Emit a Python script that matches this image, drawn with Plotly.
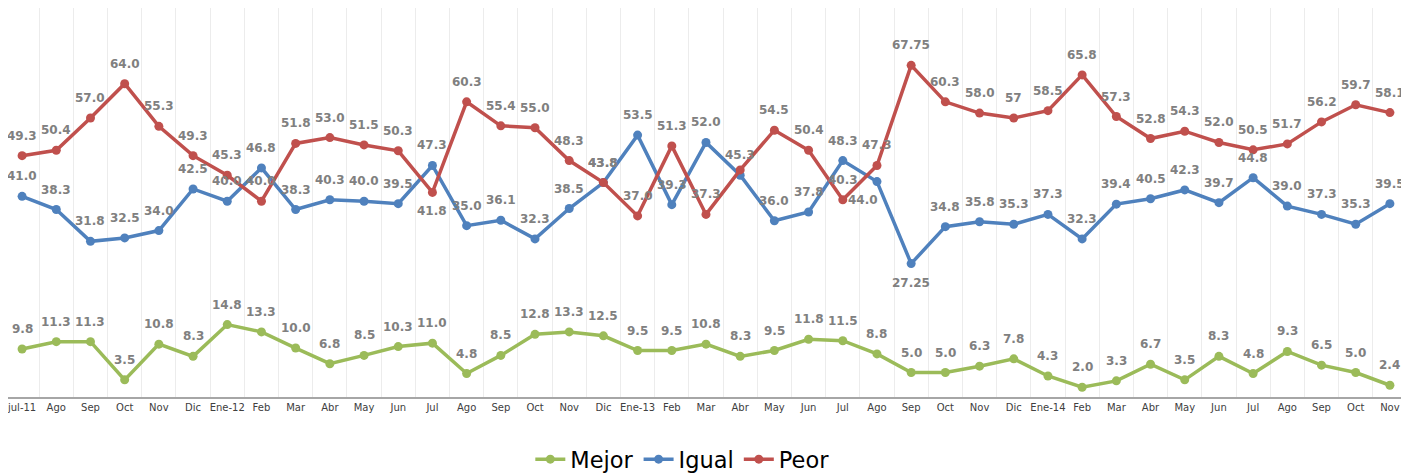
import plotly.graph_objects as go

months = ["jul-11", "Ago", "Sep", "Oct", "Nov", "Dic", "Ene-12", "Feb", "Mar", "Abr", "May", "Jun",
          "Jul", "Ago", "Sep", "Oct", "Nov", "Dic", "Ene-13", "Feb", "Mar", "Abr", "May", "Jun",
          "Jul", "Ago", "Sep", "Oct", "Nov", "Dic", "Ene-14", "Feb", "Mar", "Abr", "May", "Jun",
          "Jul", "Ago", "Sep", "Oct", "Nov"]

mejor = [9.8, 11.3, 11.3, 3.5, 10.8, 8.3, 14.8, 13.3, 10.0, 6.8, 8.5, 10.3, 11.0, 4.8, 8.5, 12.8,
         13.3, 12.5, 9.5, 9.5, 10.8, 8.3, 9.5, 11.8, 11.5, 8.8, 5.0, 5.0, 6.3, 7.8, 4.3, 2.0, 3.3,
         6.7, 3.5, 8.3, 4.8, 9.3, 6.5, 5.0, 2.4]
mejor_lbl = ["9.8", "11.3", "11.3", "3.5", "10.8", "8.3", "14.8", "13.3", "10.0", "6.8", "8.5", "10.3",
             "11.0", "4.8", "8.5", "12.8", "13.3", "12.5", "9.5", "9.5", "10.8", "8.3", "9.5", "11.8",
             "11.5", "8.8", "5.0", "5.0", "6.3", "7.8", "4.3", "2.0", "3.3", "6.7", "3.5", "8.3",
             "4.8", "9.3", "6.5", "5.0", "2.4"]

igual = [41.0, 38.3, 31.8, 32.5, 34.0, 42.5, 40.0, 46.8, 38.3, 40.3, 40.0, 39.5, 47.3, 35.0, 36.1,
         32.3, 38.5, 43.8, 53.5, 39.3, 52.0, 45.3, 36.0, 37.8, 48.3, 44.0, 27.25, 34.8, 35.8, 35.3,
         37.3, 32.3, 39.4, 40.5, 42.3, 39.7, 44.8, 39.0, 37.3, 35.3, 39.5]
igual_lbl = ["41.0", "38.3", "31.8", "32.5", "34.0", "42.5", "40.0", "46.8", "38.3", "40.3", "40.0",
             "39.5", "47.3", "35.0", "36.1", "32.3", "38.5", "43.8", "53.5", "39.3", "52.0", "45.3",
             "36.0", "37.8", "48.3", "44.0", "27.25", "34.8", "35.8", "35.3", "37.3", "32.3", "39.4",
             "40.5", "42.3", "39.7", "44.8", "39.0", "37.3", "35.3", "39.5"]

peor = [49.3, 50.4, 57.0, 64.0, 55.3, 49.3, 45.3, 40.0, 51.8, 53.0, 51.5, 50.3, 41.8, 60.3, 55.4,
        55.0, 48.3, 43.8, 37.0, 51.3, 37.3, 46.4, 54.5, 50.4, 40.3, 47.3, 67.75, 60.3, 58.0, 57,
        58.5, 65.8, 57.3, 52.8, 54.3, 52.0, 50.5, 51.7, 56.2, 59.7, 58.1]
peor_lbl = ["49.3", "50.4", "57.0", "64.0", "55.3", "49.3", "45.3", "40.0", "51.8", "53.0", "51.5",
            "50.3", "41.8", "60.3", "55.4", "55.0", "48.3", "43.8", "37.0", "51.3", "37.3", "",
            "54.5", "50.4", "40.3", "47.3", "67.75", "60.3", "58.0", "57", "58.5", "65.8", "57.3",
            "52.8", "54.3", "52.0", "50.5", "51.7", "56.2", "59.7", "58.1"]

# label placement: 'top' default, some exceptions
igual_pos = {25: "bottomleft", 26: "bottom"}
peor_pos = {12: "bottom"}

x = list(range(len(months)))

series = [
    ("Mejor", mejor, mejor_lbl, "#9BBB59", {}),
    ("Igual", igual, igual_lbl, "#4F81BD", igual_pos),
    ("Peor", peor, peor_lbl, "#C0504D", peor_pos),
]

fig = go.Figure()
annotations = []
for name, vals, lbls, color, pos in series:
    fig.add_trace(go.Scatter(
        x=x, y=vals, name=name, mode="lines+markers",
        line=dict(color=color, width=3.5),
        marker=dict(color=color, size=9),
        cliponaxis=False,
    ))
    for i, (v, t) in enumerate(zip(vals, lbls)):
        if not t:
            continue
        p = pos.get(i, "top")
        xs, ys = 0, 20
        if p == "bottom":
            ys = -19
        elif p == "bottomleft":
            ys = -18
            xs = -14
        annotations.append(dict(
            x=i, y=v, text=t, showarrow=False, xshift=xs, yshift=ys,
            font=dict(family="DejaVu Sans", size=12, color="#808080", weight="bold"),
        ))

fig.update_layout(
    width=1401, height=473,
    margin=dict(l=0, r=2, t=0, b=81),
    paper_bgcolor="white", plot_bgcolor="white",
    annotations=annotations,
    showlegend=True,
    legend=dict(orientation="h", x=0.482, xanchor="center", y=-0.161, yanchor="middle",
                font=dict(family="DejaVu Sans", size=22.5, color="#000000"),
                itemwidth=30, tracegroupgap=0),
    xaxis=dict(
        range=[-0.412, len(months) - 0.5],
        tickmode="array", tickvals=x, ticktext=months,
        tickfont=dict(family="DejaVu Sans", size=10, color="#404040"),
        ticklabeloverflow="allow",
        showgrid=False, zeroline=False,
        showline=True, linecolor="#a6a6a6", linewidth=1.5,
        ticks="", ticklen=0,
        minor=dict(tickmode="array", tickvals=[i + 0.5 for i in range(-1, len(months))],
                   showgrid=True, gridcolor="#ececec", gridwidth=1, ticks=""),
    ),
    yaxis=dict(range=[0, 79.47], showgrid=False, zeroline=False, showticklabels=False,
               showline=False, ticks=""),
)

fig.write_html("out.html")
